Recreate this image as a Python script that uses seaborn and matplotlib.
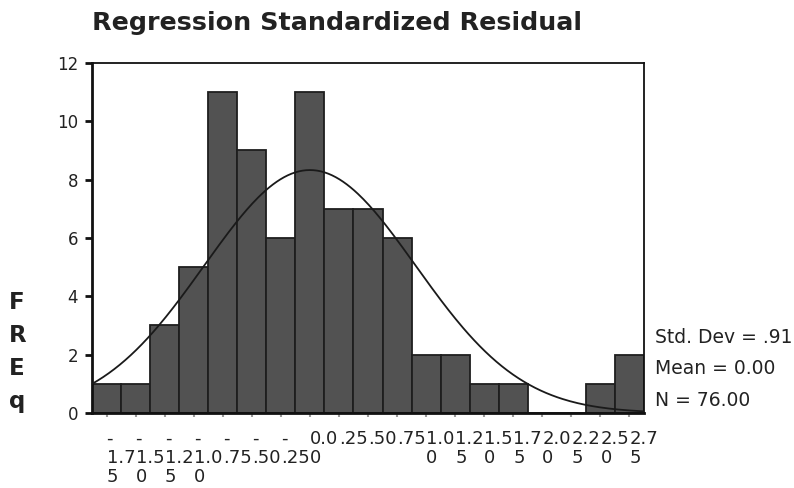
import numpy as np
import pandas as pd
import matplotlib
matplotlib.use("Agg")
import matplotlib.pyplot as plt
import matplotlib.transforms as mtransforms
import seaborn as sns

# bin centres of the standardized residual histogram (width .25)
bin_centers = [-1.75, -1.50, -1.25, -1.00, -0.75, -0.50, -0.25, 0.00, 0.25, 0.50,
               0.75, 1.00, 1.25, 1.50, 1.75, 2.00, 2.25, 2.50, 2.75]
frequencies = [1, 1, 3, 5, 11, 9, 6, 11, 7, 7, 6, 2, 2, 1, 1, 0, 0, 1, 2]
tick_labels = ["-1.75", "-1.50", "-1.25", "-1.00", "-.75", "-.50", "-.25", "0.00",
               ".25", ".50", ".75", "1.00", "1.25", "1.50", "1.75", "2.00", "2.25",
               "2.50", "2.75"]
y_ticks = [0, 2, 4, 6, 8, 10, 12]

std_dev = 0.91
mean = 0.00
n_cases = 76
bin_width = 0.25


def wrap_label(s):
    # SPSS squeezes long labels into 3-char lines, minus sign on its own line
    lines = []
    if s.startswith("-"):
        lines.append("-")
        s = s[1:]
    lines += [s[i:i + 3] for i in range(0, len(s), 3)]
    return "\n".join(lines)


sns.set_style("ticks")
plt.rcParams["font.family"] = ["DejaVu Sans"]

fig = plt.figure(figsize=(7.94, 4.88), dpi=100)
ax = fig.add_axes([0.1159, 0.1537, 0.6952, 0.7172])

df = pd.DataFrame({"residual": bin_centers, "freq": frequencies})
edges = [c - bin_width / 2 for c in bin_centers] + [bin_centers[-1] + bin_width / 2]

sns.histplot(data=df, x="residual", weights="freq", bins=edges, ax=ax,
             color="#525252", edgecolor="#1e1e1e", linewidth=1.3, alpha=1)

# fitted normal curve scaled to counts
xs = np.linspace(edges[0], edges[-1], 300)
ys = n_cases * bin_width / (std_dev * np.sqrt(2 * np.pi)) * np.exp(-0.5 * ((xs - mean) / std_dev) ** 2)
sns.lineplot(x=xs, y=ys, ax=ax, color="#1a1a1a", linewidth=1.3, zorder=5)

ax.set_xlim(edges[0], edges[-1])
ax.set_ylim(0, 12)
ax.set_yticks(y_ticks)
ax.set_yticklabels([str(t) for t in y_ticks], fontsize=12, color="#222222")
ax.set_xticks(bin_centers)
ax.set_xticklabels([wrap_label(s) for s in tick_labels], fontsize=13,
                   color="#222222", ha="left", linespacing=1.1)
offset = mtransforms.ScaledTranslation(4 / 100, 0, fig.dpi_scale_trans)
for lab in ax.get_xticklabels():
    lab.set_transform(lab.get_transform() + offset)

ax.tick_params(axis="y", length=5, width=2, color="#111111", pad=5, direction="out")
ax.tick_params(axis="x", length=3, width=1.5, color="#9a9a9a", pad=9, direction="out")

for side, spine in ax.spines.items():
    spine.set_visible(True)
    spine.set_color("#111111")
    spine.set_linewidth(2 if side in ("left", "bottom") else 1.3)

ax.set_title("Regression Standardized Residual", loc="left", fontsize=18.3,
             fontweight="bold", color="#222222", pad=24)

ax.set_xlabel("")
ax.set_ylabel("F\nR\nE\nq", rotation=0, fontsize=16.5, fontweight="bold",
              color="#222222", linespacing=1.55)
ax.yaxis.set_label_coords(-0.150, 0.174)
ax.yaxis.label.set_ha("left")
ax.yaxis.label.set_va("center")

stats = f"Std. Dev = {std_dev:.2f}".replace("0.", ".") + "\n" + \
        f"Mean = {mean:.2f}" + "\n" + f"N = {n_cases:.2f}"
fig.text(0.825, 0.3279, stats, ha="left", va="top", fontsize=13.5,
         color="#222222", linespacing=1.83)

fig.savefig("out.png", dpi=100)
